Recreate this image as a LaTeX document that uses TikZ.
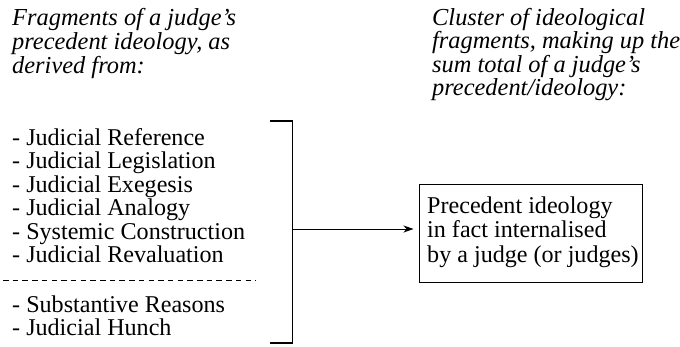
\documentclass[tikz,border=0pt]{standalone}
\usepackage{fontspec}
\setmainfont{Liberation Serif}
\usetikzlibrary{arrows.meta}
\begin{document}
\begin{tikzpicture}[x=1pt,y=-1pt,
  txt/.style={anchor=base west,inner sep=0pt,font=\fontsize{24.1}{24}\selectfont},
  ttl/.style={txt,font=\fontsize{24.4}{24}\selectfont\itshape},
  rule/.style={line width=1.1pt,black},
  sep/.style={line width=0.9pt,dash pattern=on 5.5pt off 4.2pt},
  framebox/.style={draw,line width=1pt,minimum width=223pt,minimum height=98pt,inner sep=0pt},
  conn/.style={line width=1pt,-{Stealth[length=10pt,width=7pt,inset=3pt]},shorten >=5pt}]
  \useasboundingbox (0,0) rectangle (680,346);

  % left heading
  \node[ttl] (l1) at (12,25) {Fragments of a judge’s};
  \node[ttl] (l2) at (12,49) {precedent ideology, as};
  \node[ttl] (l3) at (12,73) {derived from:};

  % right heading
  \node[ttl] (r1) at (432,25) {Cluster of ideological};
  \node[ttl] (r2) at (432,48.5) {fragments, making up the};
  \node[ttl] (r3) at (432,72) {sum total of a judge’s};
  \node[ttl] (r4) at (432,95.5) {precedent/ideology:};

  % sources of precedent ideology
  \node[txt] (s1) at (12,145) {- Judicial Reference};
  \node[txt] (s2) at (12,168.5) {- Judicial Legislation};
  \node[txt] (s3) at (12,192) {- Judicial Exegesis};
  \node[txt] (s4) at (12,215.5) {- Judicial Analogy};
  \node[txt] (s5) at (12,239) {- Systemic Construction};
  \node[txt] (s6) at (12,262.5) {- Judicial Revaluation};
  \draw[sep] (3,280) -- (256,280);
  \node[txt] (s7) at (12,312) {- Substantive Reasons};
  \node[txt] (s8) at (12,335.5) {- Judicial Hunch};

  % bracket gathering the sources
  \coordinate (bt) at (270,121);
  \coordinate (bb) at (270,343);
  \coordinate (bm) at (292.5,229);
  \draw[rule] (bt) -- (bt -| bm) -- (bb -| bm) -- (bb);

  % resulting ideology
  \node[framebox] (box) at (530.5,233) {};
  \node[txt] (b1) at (427,213) {Precedent ideology};
  \node[txt] (b2) at (427,237.5) {in fact internalised};
  \node[txt] (b3) at (427,262) {by a judge (or judges)};

  \draw[conn] (bm) -- (bm -| box.west);
\end{tikzpicture}
\end{document}
